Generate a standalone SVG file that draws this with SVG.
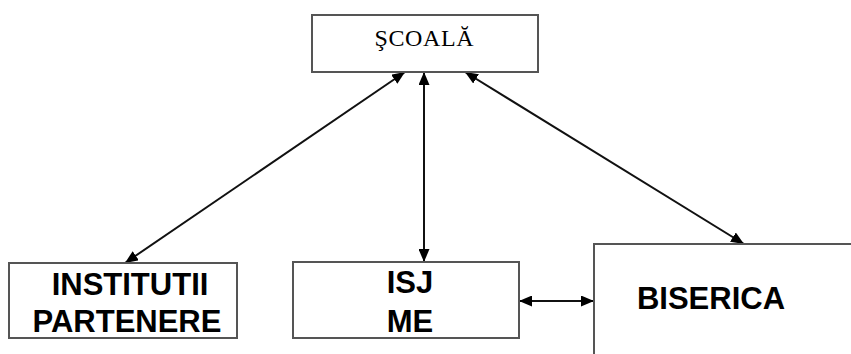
<svg xmlns="http://www.w3.org/2000/svg" width="851" height="354" viewBox="0 0 851 354">
  <style>
    .box { fill: #ffffff; stroke: #555555; stroke-width: 2; }
    .lbl { font-family: "Liberation Sans", Arial, sans-serif; font-weight: bold; font-size: 31px; fill: #000000; text-anchor: middle; }
    .top { font-family: "Liberation Serif", "Times New Roman", serif; font-size: 24px; fill: #000000; text-anchor: middle; }
    .link { stroke: #111111; stroke-width: 2; fill: none; marker-start: url(#head); marker-end: url(#head); }
  </style>
  <defs>
    <marker id="head" viewBox="0 0 13 11" refX="13" refY="5.5" markerWidth="13" markerHeight="11" markerUnits="userSpaceOnUse" orient="auto-start-reverse">
      <path d="M0,0 L13,5.5 L0,11 Z" fill="#000000"/>
    </marker>
  </defs>

  <g id="connectors">
    <line class="link" x1="405" y1="72" x2="125" y2="263"/>
    <line class="link" x1="424" y1="72" x2="424" y2="262"/>
    <line class="link" x1="465" y1="72" x2="744" y2="244"/>
    <line class="link" x1="519" y1="301" x2="594" y2="301"/>
  </g>

  <g id="scoala">
    <rect class="box" x="312" y="15" width="226" height="57"/>
    <text class="top" x="424" y="46" textLength="99">ŞCOALĂ</text>
  </g>

  <g id="institutii">
    <rect class="box" x="9" y="263" width="228" height="75"/>
    <text class="lbl" x="130" y="295">INSTITUTII</text>
    <text class="lbl" x="127" y="332">PARTENERE</text>
  </g>

  <g id="isj">
    <rect class="box" x="293" y="262" width="226" height="76"/>
    <text class="lbl" x="410" y="293">ISJ</text>
    <text class="lbl" x="410" y="332">ME</text>
  </g>

  <g id="biserica">
    <rect class="box" x="594" y="244" width="270" height="130"/>
    <text class="lbl" x="711" y="309">BISERICA</text>
  </g>
</svg>
